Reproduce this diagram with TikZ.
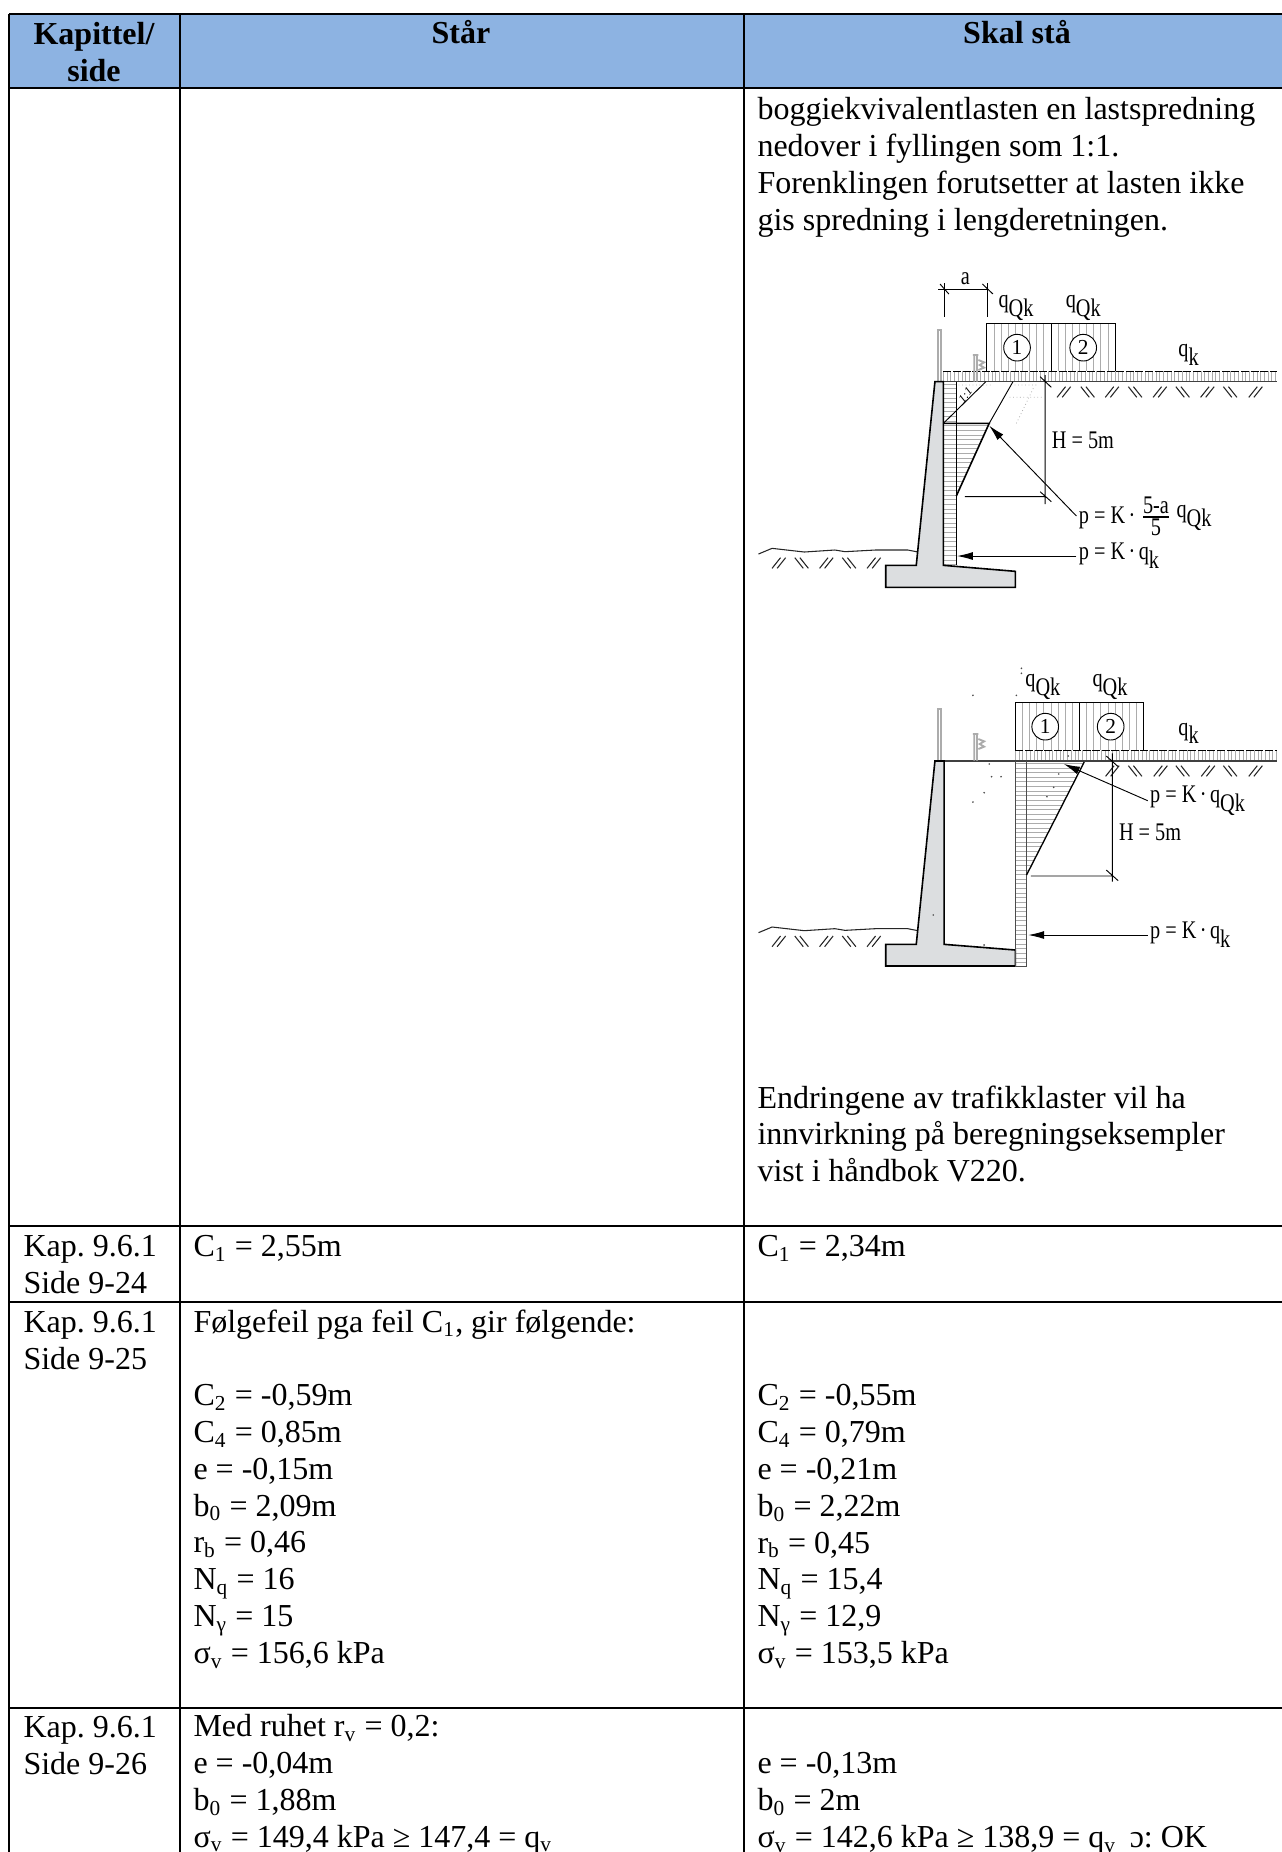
\documentclass[tikz,border=0pt]{standalone}
\usepackage{fontspec}
\setmainfont{Liberation Serif}
\usetikzlibrary{arrows.meta}
\definecolor{headblue}{HTML}{8DB3E2}
\definecolor{betong}{HTML}{DCDEE0}
\newcommand{\sub}[1]{\textsubscript{#1}}
\newcommand{\low}[2]{#1\raisebox{-.35em}{#2}}
% x0, step, n, y0, y1
\newcommand{\vhatch}[5]{\foreach \i in {0,...,#3} {\draw[hatch] (#1+\i*#2,#4) -- (#1+\i*#2,#5);}}
% y0, step, n, x0, x1
\newcommand{\hhatch}[5]{\foreach \i in {0,...,#3} {\draw[hatch] (#4,#1+\i*#2) -- (#5,#1+\i*#2);}}
\newcommand{\slashmark}[2]{\draw[soil] (#1,#2+32) -- ++(25,-32) (#1+15,#2+32) -- ++(25,-32);}
\newcommand{\backmark}[2]{\draw[soil] (#1,#2) -- ++(25,32) (#1+15,#2) -- ++(25,32);}
\newcommand{\rail}[2]{\draw[hatch, line width=.7pt] (#1-4,#2) -- (#1-4,#2+155) (#1+4,#2) -- (#1+4,#2+155) (#1-7,#2) -- (#1+7,#2);}
\newcommand{\lowrail}[2]{\draw[hatch, line width=.7pt] (#1-4,#2) -- (#1-4,#2+80) (#1+4,#2) -- (#1+4,#2+80) (#1-8,#2) -- (#1+8,#2)
  (#1+8,#2+15) -- (#1+25,#2+22) -- (#1+12,#2+30) -- (#1+25,#2+38) -- (#1+8,#2+45);}
\newcommand{\wave}[1]{\draw[soil] (25,#1+12) -- (65,#1-5) -- (160,#1+6) -- (250,#1) -- (280,#1+5) -- (370,#1) -- (465,#1) -- (495,#1+6);}
\begin{document}
\frenchspacing
\begin{tikzpicture}[x=0.375pt, y=-0.375pt,
  rule/.style={line width=0.5pt, draw=black},
  heavy/.style={line width=0.85pt, draw=black},
  cell/.style={anchor=north west, inner sep=0pt, align=left, font=\fontsize{12pt}{13.8pt}\selectfont, execute at begin node=\strut},
  head/.style={anchor=north, inner sep=0pt, align=center, font=\fontsize{12pt}{13.8pt}\selectfont\bfseries, execute at begin node=\strut},
  dia/.style={shift={(#1)}, x=0.12725pt, y=-0.125pt},
  hatch/.style={line width=0.3pt, draw=gray!65},
  soil/.style={line width=0.4pt, draw=black!85},
  thin line/.style={line width=0.35pt, draw=black},
  wall/.style={line width=0.6pt, draw=black, fill=betong},
  pil/.style={line width=0.35pt, draw=black, -{Latex[length=6pt, width=3pt]}},
  ring/.style={circle, draw=black, line width=0.35pt, minimum size=10pt, inner sep=0pt, font=\fontsize{8pt}{9pt}\selectfont},
  lab/.style={inner sep=1pt, xscale=.8, transform shape, font=\fontsize{9.5pt}{10pt}\selectfont}]
  \useasboundingbox (0,0) rectangle (1282,1852);
  \fill[headblue] (9,14) rectangle (1282,88);
  % table lines
  \draw[heavy] (9,14) -- (1282,14);
  \draw[heavy] (9,88) -- (1282,88);
  \draw[rule] (9,1226) -- (1282,1226);
  \draw[rule] (9,1302) -- (1282,1302);
  \draw[heavy] (9,1708) -- (1282,1708);
  \draw[rule] (9,14) -- (9,1852);
  \draw[rule] (180,14) -- (180,1852);
  \draw[rule] (744,14) -- (744,1852);
  % header
  \node[head] (kapHead) at (94,22) {Kapittel/\\side};
  \node[head] (staarHead) at (461,17) {Står};
  \node[head] (skalHead) at (1017,17) {Skal stå};
  % text
  \node[cell] (skal0) at (757,97) {boggiekvivalentlasten en lastspredning\\nedover i fyllingen som 1:1.\\Forenklingen forutsetter at lasten ikke\\gis spredning i lengderetningen.};
  \node[cell] (skal0b) at (757,1085) {Endringene av trafikklaster vil ha\\innvirkning på beregningseksempler\\vist i håndbok V220.};
  \node[cell] (kap1) at (23,1235) {Kap. 9.6.1\\Side 9-24};
  \node[cell] (staar1) at (193,1230) {C\sub{1} = 2,55m};
  \node[cell] (skal1) at (757,1230) {C\sub{1} = 2,34m};
  \node[cell] (kap2) at (23,1311) {Kap. 9.6.1\\Side 9-25};
  \node[cell] (staar2) at (193,1309) {Følgefeil pga feil C\sub{1}, gir følgende:\\~\\C\sub{2} = -0,59m\\C\sub{4} = 0,85m\\e = -0,15m\\b\sub{0} = 2,09m\\r\sub{b} = 0,46\\N\sub{q} = 16\\N\sub{γ} = 15\\σ\sub{v} = 156,6 kPa};
  \node[cell] (skal2) at (757,1384) {C\sub{2} = -0,55m\\C\sub{4} = 0,79m\\e = -0,21m\\b\sub{0} = 2,22m\\r\sub{b} = 0,45\\N\sub{q} = 15,4\\N\sub{γ} = 12,9\\σ\sub{v} = 153,5 kPa};
  \node[cell] (kap3) at (23,1716) {Kap. 9.6.1\\Side 9-26};
  \node[cell] (staar3) at (193,1714) {Med ruhet r\sub{v} = 0,2:\\e = -0,04m\\b\sub{0} = 1,88m\\σ\sub{v} = 149,4 kPa ≥ 147,4 = q\sub{v}};
  \node[cell] (skal3) at (757,1752) {e = -0,13m\\b\sub{0} = 2m\\σ\sub{v} = 142,6 kPa ≥ 138,9 = q\sub{v}\, ɔ: OK};
  % first figure
  \begin{scope}[dia={750,260}]
    \vhatch{698}{21}{17}{190}{333}
    \vhatch{570}{11}{89}{333}{365}
    \draw[thin line] (698,333) -- (698,190) -- (1077,190) -- (1077,333);
    \draw[thin line] (888,190) -- (888,333);
    \draw[thin line, dashed, dash pattern=on 3pt off .6pt] (570,333) -- (1552,333);
    \draw[line width=0.5pt, draw=black!75] (545,365) -- (1552,365);
    \node[ring, fill=white] (lastA1) at (787,263) {1};
    \node[ring, fill=white] (lastA2) at (982,263) {2};
    \rail{558}{210}
    \lowrail{665}{285}
    \foreach \x in {905,1047,1188,1328,1470} {\slashmark{\x}{380}}
    \foreach \x in {975,1115,1255,1395} {\backmark{\x}{380}}
    \wave{870}
    \foreach \x in {65,205,345} {\slashmark{\x}{893}}
    \foreach \x in {132,272} {\backmark{\x}{893}}
    \hhatch{372}{13.9}{39}{570}{608}
    \begin{scope}
      \clip (608,490) -- (705,490) -- (608,708) -- cycle;
      \hhatch{497}{13.9}{16}{608}{705}
    \end{scope}
    \draw[wall] (545,365) -- (490,916) -- (400,916) -- (400,982) -- (782,982) -- (782,934) -- (570,916) -- (570,365) -- cycle;
    \draw[line width=0.6pt] (570,365) -- (570,916) (608,365) -- (608,916);
    \draw[line width=0.6pt] (570,490) -- (705,490) -- (608,708);
    \draw[thin line] (570,490) -- (695,365) (705,490) -- (775,365);
    \node[lab, rotate=45, font=\fontsize{5pt}{6pt}\selectfont] (enEn) at (635,405) {1:1};
    \draw[hatch, densely dotted] (615,375) -- (710,375) (780,375) -- (850,375) (765,412) -- (860,412) (835,385) -- (785,490);
    % dimensions
    \draw[thin line] (555,87) -- (700,87) (572,70) -- (572,172) (700,70) -- (700,172);
    \draw[thin line] (560,72) -- (586,102) (685,72) -- (716,102);
    \node[lab] (aLab) at (635,55) {a};
    \draw[thin line] (870,345) -- (870,732) (855,350) -- (888,382) (855,695) -- (888,725) (633,710) -- (870,710);
    \node[lab, anchor=west] (hLabA) at (882,540) {H = 5m};
    \node[lab, anchor=west] (qQkA1) at (725,145) {\low{q}{Qk}};
    \node[lab, anchor=west] (qQkA2) at (923,145) {\low{q}{Qk}};
    \node[lab, anchor=west] (qkA) at (1255,285) {\low{q}{k}};
    \coordinate (topA) at (705,497);
    \coordinate (wallA) at (610,888);
    \node[lab, anchor=west] (pA1) at (962,768) {p = K\,· $\frac{\mbox{5-a}}{\mbox{5}}$ \raisebox{.2em}{\low{q}{Qk}}};
    \node[lab, anchor=west] (pA2) at (962,888) {p = K\,·\,\low{q}{k}};
    \draw[pil] (pA1.west) -- (topA);
    \draw[pil] (pA2.west) -- (wallA);
  \end{scope}
  % second figure
  \begin{scope}[dia={750,650}]
    \vhatch{782}{21}{17}{157}{300}
    \vhatch{782}{11}{70}{300}{333}
    \draw[thin line] (782,300) -- (782,157) -- (1160,157) -- (1160,300);
    \draw[thin line] (970,157) -- (970,300);
    \draw[thin line, dashed, dash pattern=on 3pt off .6pt] (782,300) -- (1552,300);
    \draw[line width=0.5pt, draw=black!75] (545,333) -- (1552,333);
    \node[ring, fill=white] (lastB1) at (870,230) {1};
    \node[ring, fill=white] (lastB2) at (1063,230) {2};
    \rail{558}{178}
    \lowrail{665}{252}
    \foreach \x in {1048,1190,1330,1470} {\slashmark{\x}{347}}
    \foreach \x in {1115,1255,1395} {\backmark{\x}{347}}
    \wave{836}
    \foreach \x in {65,205,345} {\slashmark{\x}{858}}
    \foreach \x in {132,272} {\backmark{\x}{858}}
    \hhatch{340}{13.9}{43}{782}{815}
    \begin{scope}
      \clip (815,336) -- (985,336) -- (815,675) -- cycle;
      \hhatch{340}{13.9}{24}{815}{985}
    \end{scope}
    \draw[wall] (545,333) -- (490,883) -- (400,883) -- (400,948) -- (782,948) -- (782,900) -- (572,883) -- (572,333) -- cycle;
    \draw[line width=0.35pt, draw=black!70] (782,333) -- (782,948) -- (815,948) -- (815,333);
    \draw[line width=0.5pt] (815,675) -- (985,336);
    \foreach \x/\y in {657/136, 785/136, 800/55, 800/70, 705/342, 712/380, 740/380, 690/428, 657/456, 540/795, 690/885, 875/440, 895/412, 910/372, 938/318} {\fill[black!70] (\x,\y) circle (0.35pt);}
    % dimensions
    \draw[thin line] (1068,310) -- (1068,695) (1050,318) -- (1085,350) (1050,660) -- (1085,692) (828,678) -- (1068,678);
    \node[lab, anchor=west] (hLabB) at (1080,548) {H = 5m};
    \node[lab, anchor=west] (qQkB1) at (804,112) {\low{q}{Qk}};
    \node[lab, anchor=west] (qQkB2) at (1002,112) {\low{q}{Qk}};
    \node[lab, anchor=west] (qkB) at (1255,250) {\low{q}{k}};
    \coordinate (topB) at (925,342);
    \coordinate (wallB) at (820,855);
    \node[lab, anchor=west] (pB1) at (1172,452) {p = K\,·\,\low{q}{Qk}};
    \node[lab, anchor=west] (pB2) at (1172,855) {p = K\,·\,\low{q}{k}};
    \draw[pil] (pB1.west) -- (topB);
    \draw[pil] (pB2.west) -- (wallB);
  \end{scope}
\end{tikzpicture}
\end{document}
